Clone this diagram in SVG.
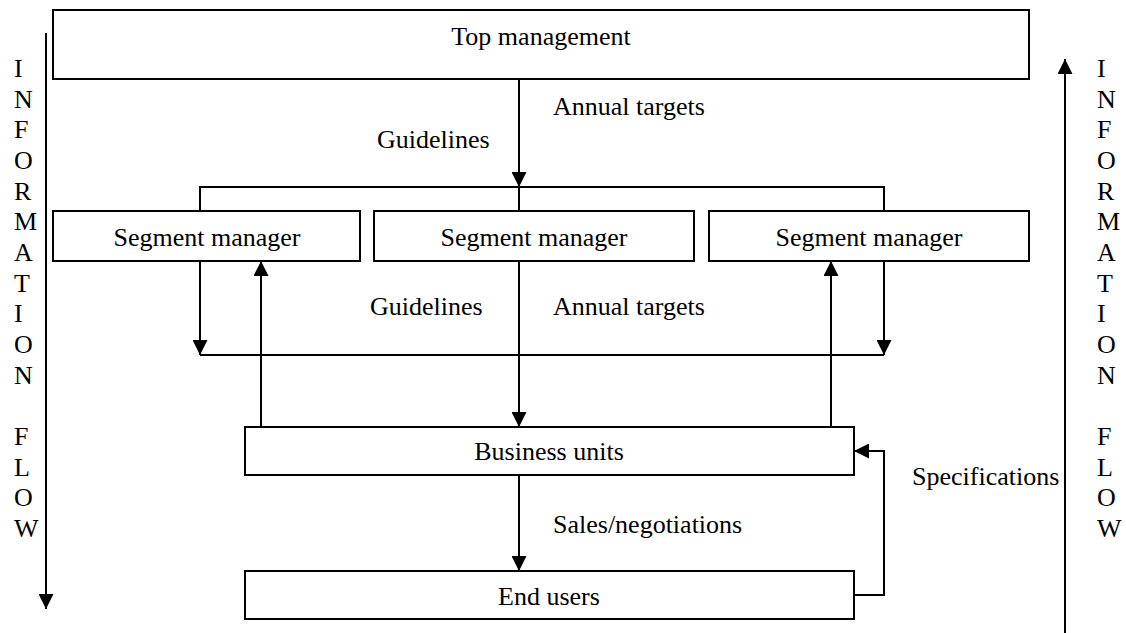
<svg xmlns="http://www.w3.org/2000/svg" width="1126" height="633" viewBox="0 0 1126 633">
  <style>
    .box { fill: #fff; stroke: #000; stroke-width: 2; }
    .ln { fill: none; stroke: #000; stroke-width: 2; }
    text { font-family: "Liberation Serif", "Times New Roman", serif; font-size: 26px; fill: #000; }
    .c { text-anchor: middle; }
  </style>
  <defs>
    <marker id="ah" markerUnits="userSpaceOnUse" markerWidth="15" markerHeight="15" refX="15" refY="7.5" orient="auto">
      <path d="M0,0 L15,7.5 L0,15 z" fill="#000"/>
    </marker>
  </defs>

  <!-- side labels -->
  <g id="flow-down">
    <line class="ln" x1="46" y1="33" x2="46" y2="609" marker-end="url(#ah)"/>
    <text x="14" y="77"><tspan x="14">I</tspan><tspan x="14" dy="30.67">N</tspan><tspan x="14" dy="30.67">F</tspan><tspan x="14" dy="30.67">O</tspan><tspan x="14" dy="30.67">R</tspan><tspan x="14" dy="30.67">M</tspan><tspan x="14" dy="30.67">A</tspan><tspan x="14" dy="30.67">T</tspan><tspan x="14" dy="30.67">I</tspan><tspan x="14" dy="30.67">O</tspan><tspan x="14" dy="30.67">N</tspan><tspan x="14" dy="61.34">F</tspan><tspan x="14" dy="30.67">L</tspan><tspan x="14" dy="30.67">O</tspan><tspan x="14" dy="30.67">W</tspan></text>
  </g>
  <g id="flow-up">
    <line class="ln" x1="1065" y1="633" x2="1065" y2="59" marker-end="url(#ah)"/>
    <text x="1097" y="77"><tspan x="1097">I</tspan><tspan x="1097" dy="30.67">N</tspan><tspan x="1097" dy="30.67">F</tspan><tspan x="1097" dy="30.67">O</tspan><tspan x="1097" dy="30.67">R</tspan><tspan x="1097" dy="30.67">M</tspan><tspan x="1097" dy="30.67">A</tspan><tspan x="1097" dy="30.67">T</tspan><tspan x="1097" dy="30.67">I</tspan><tspan x="1097" dy="30.67">O</tspan><tspan x="1097" dy="30.67">N</tspan><tspan x="1097" dy="61.34">F</tspan><tspan x="1097" dy="30.67">L</tspan><tspan x="1097" dy="30.67">O</tspan><tspan x="1097" dy="30.67">W</tspan></text>
  </g>

  <!-- connectors -->
  <g id="connectors">
    <line class="ln" x1="519" y1="79" x2="519" y2="187" marker-end="url(#ah)"/>
    <polyline class="ln" points="200,211 200,187 884,187 884,211"/>
    <line class="ln" x1="519" y1="187" x2="519" y2="211"/>

    <line class="ln" x1="200" y1="261" x2="200" y2="355" marker-end="url(#ah)"/>
    <line class="ln" x1="884" y1="261" x2="884" y2="355" marker-end="url(#ah)"/>
    <line class="ln" x1="200" y1="355" x2="884" y2="355"/>
    <line class="ln" x1="261" y1="427" x2="261" y2="261" marker-end="url(#ah)"/>
    <line class="ln" x1="831" y1="427" x2="831" y2="261" marker-end="url(#ah)"/>
    <line class="ln" x1="519" y1="261" x2="519" y2="427" marker-end="url(#ah)"/>

    <line class="ln" x1="519" y1="475" x2="519" y2="571" marker-end="url(#ah)"/>
    <polyline class="ln" points="854,595 884,595 884,451 854,451" marker-end="url(#ah)"/>

    <text x="377" y="148">Guidelines</text>
    <text x="553" y="115">Annual targets</text>
    <text x="370" y="315">Guidelines</text>
    <text x="553" y="315">Annual targets</text>
    <text x="553" y="533">Sales/negotiations</text>
    <text x="912" y="485">Specifications</text>
  </g>

  <!-- nodes -->
  <g id="top-management">
    <rect class="box" x="53" y="10" width="976" height="69"/>
    <text class="c" x="541" y="45">Top management</text>
  </g>
  <g id="segment-manager-1">
    <rect class="box" x="53" y="211" width="307" height="50"/>
    <text class="c" x="207" y="246">Segment manager</text>
  </g>
  <g id="segment-manager-2">
    <rect class="box" x="374" y="211" width="320" height="50"/>
    <text class="c" x="534" y="246">Segment manager</text>
  </g>
  <g id="segment-manager-3">
    <rect class="box" x="709" y="211" width="320" height="50"/>
    <text class="c" x="869" y="246">Segment manager</text>
  </g>
  <g id="business-units">
    <rect class="box" x="245" y="427" width="609" height="48"/>
    <text class="c" x="549" y="460">Business units</text>
  </g>
  <g id="end-users">
    <rect class="box" x="245" y="571" width="609" height="48"/>
    <text class="c" x="549" y="605">End users</text>
  </g>
</svg>
